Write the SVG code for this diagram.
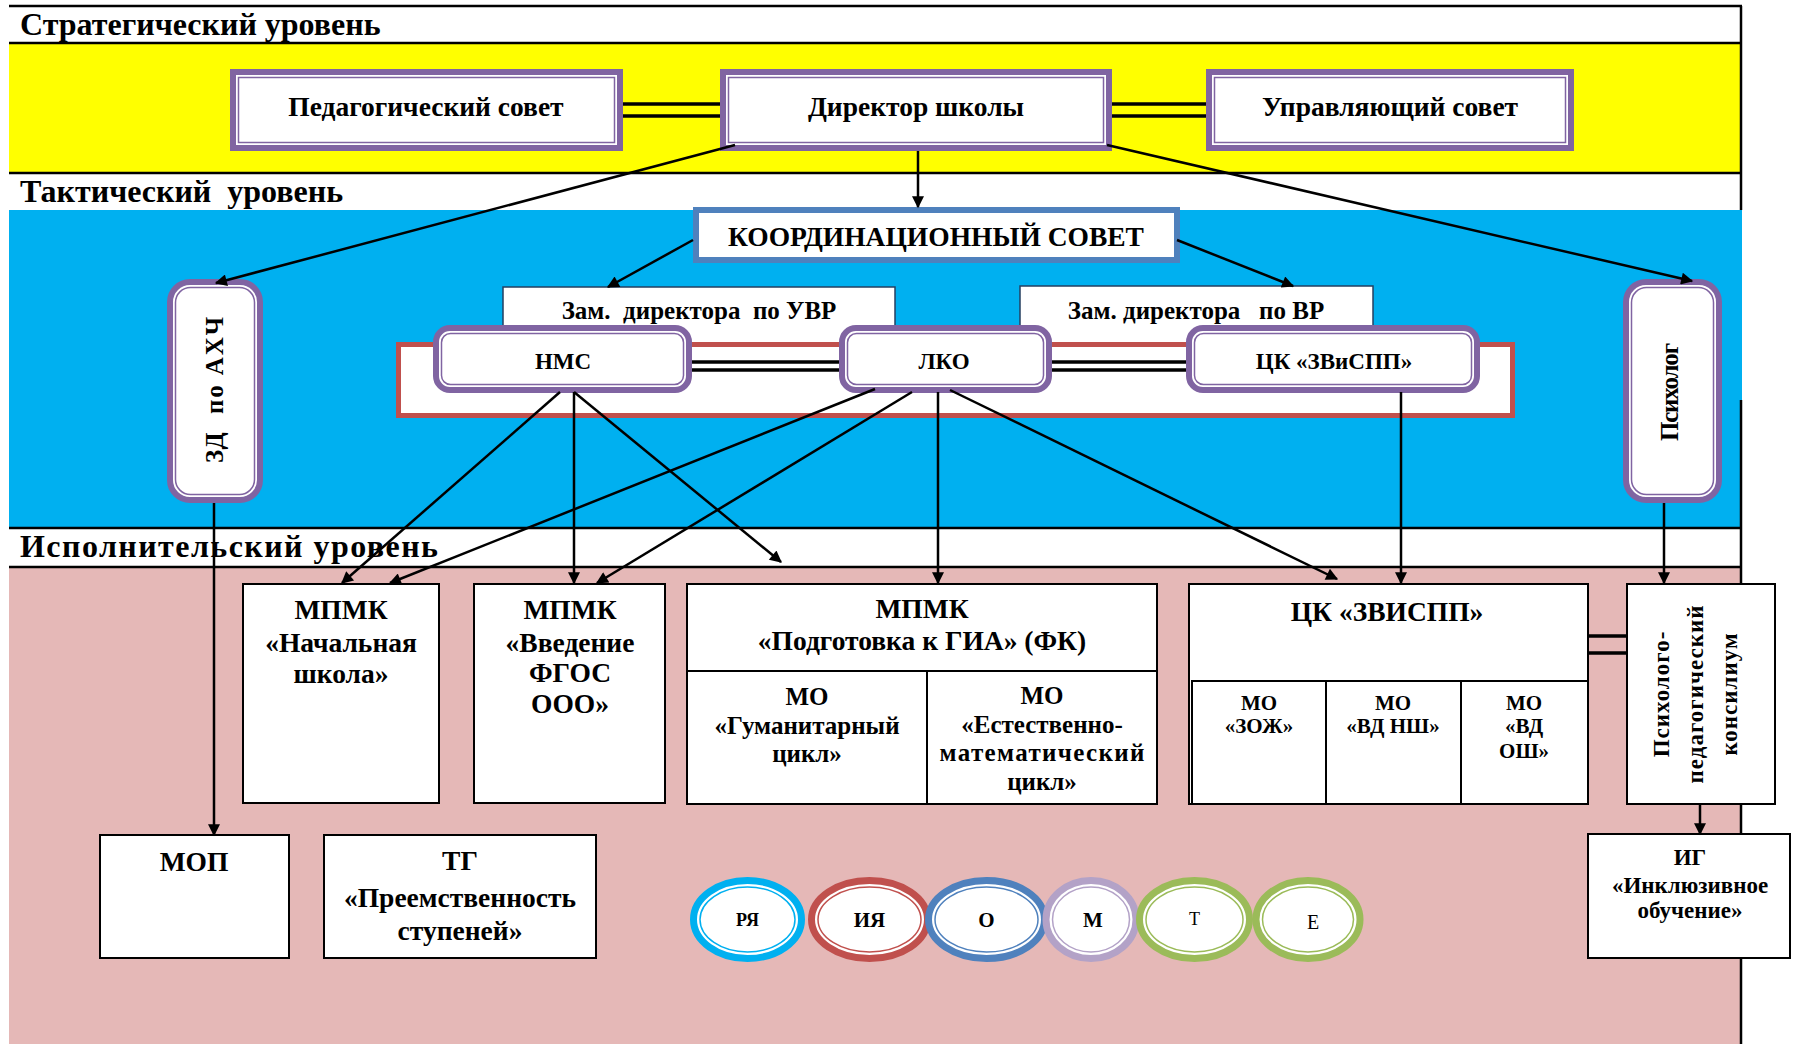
<svg xmlns="http://www.w3.org/2000/svg" width="1793" height="1044" viewBox="0 0 1793 1044">
<style>
text{font-family:"Liberation Serif","Times New Roman",serif;font-weight:bold;fill:#000;text-anchor:middle}
.hd{font-size:32px;text-anchor:start}
.po{fill:#fff;stroke:#8064A2;stroke-width:6}
.pi{fill:none;stroke:#8064A2;stroke-width:1.5}
.bx{fill:#fff;stroke:#000;stroke-width:2}
.ln{stroke:#000;stroke-width:2.5;fill:none}
.dl{stroke:#000;stroke-width:3.5}
.cn{stroke:#000;stroke-width:2.5;fill:none;marker-end:url(#ah)}
.t27{font-size:27.5px}
.t25{font-size:25px}
.t23{font-size:23px}
.t21{font-size:21px}
.t20{font-size:20px}
</style>
<defs>
<marker id="ah" viewBox="0 0 10 10" refX="9" refY="5" markerWidth="6" markerHeight="4.8" orient="auto" markerUnits="strokeWidth">
<path d="M0,0 L10,5 L0,10 z" fill="#000"/>
</marker>
</defs>

<g id="bands">
<rect x="0" y="0" width="1793" height="1044" fill="#fff"/>
<rect x="9" y="43" width="1732" height="130" fill="#FFFF00"/>
<rect x="9" y="210" width="1733" height="318" fill="#00B0F0"/>
<rect x="9" y="567" width="1732" height="477" fill="#E5B8B7"/>
<line class="ln" x1="9" y1="6" x2="1742" y2="6"/>
<line class="ln" x1="9" y1="43" x2="1742" y2="43"/>
<line class="ln" x1="9" y1="173" x2="1742" y2="173"/>
<line class="ln" x1="9" y1="528" x2="1742" y2="528"/>
<line class="ln" x1="9" y1="567" x2="1742" y2="567"/>
<line class="ln" x1="1741" y1="6" x2="1741" y2="210"/>
<line class="ln" x1="1741" y1="400" x2="1741" y2="1044"/>
<text class="hd" x="20" y="35">Стратегический уровень</text>
<text class="hd" x="20" y="202" xml:space="preserve">Тактический  уровень</text>
<text class="hd" x="20" y="557" textLength="418" lengthAdjust="spacing">Исполнительский уровень</text>
</g>

<g id="ped-sovet">
<rect class="po" x="233" y="72" width="387" height="76"/>
<rect class="pi" x="238.5" y="77.5" width="376" height="65"/>
<text class="t27" x="426" y="116">Педагогический совет</text>
</g>
<g id="direktor">
<rect class="po" x="723" y="72" width="386" height="76"/>
<rect class="pi" x="728.5" y="77.5" width="375" height="65"/>
<text class="t27" x="916" y="116">Директор школы</text>
</g>
<g id="upr-sovet">
<rect class="po" x="1209" y="72" width="362" height="76"/>
<rect class="pi" x="1214.5" y="77.5" width="351" height="65"/>
<text class="t27" x="1390" y="116">Управляющий совет</text>
</g>

<g id="koord-sovet">
<rect x="696" y="210" width="481" height="50" fill="#fff" stroke="#4F81BD" stroke-width="6"/>
<text class="t27" x="936" y="246">КООРДИНАЦИОННЫЙ СОВЕТ</text>
</g>

<g id="zam-uvr">
<rect x="503" y="287" width="392" height="58" fill="#fff" stroke="#243F60" stroke-width="1.5"/>
<text class="t25" x="699" y="319" xml:space="preserve">Зам.  директора  по УВР</text>
</g>
<g id="zam-vr">
<rect x="1020" y="286" width="353" height="59" fill="#fff" stroke="#243F60" stroke-width="1.5"/>
<text class="t25" x="1196" y="319" xml:space="preserve">Зам. директора   по ВР</text>
</g>

<g id="red-frame">
<rect x="398.5" y="344.5" width="1114" height="71" fill="#fff" stroke="#C0504D" stroke-width="5"/>
</g>

<g id="nms">
<rect class="po" x="436" y="328" width="253" height="62" rx="14"/>
<rect class="pi" x="441.5" y="333.5" width="242" height="51" rx="9"/>
<text class="t23" x="563" y="369">НМС</text>
</g>
<g id="lko">
<rect class="po" x="842" y="328" width="207" height="62" rx="14"/>
<rect class="pi" x="847.5" y="333.5" width="196" height="51" rx="9"/>
<text class="t23" x="944" y="369">ЛКО</text>
</g>
<g id="ck-zvispp-top">
<rect class="po" x="1189" y="328" width="288" height="62" rx="14"/>
<rect class="pi" x="1194.5" y="333.5" width="277" height="51" rx="9"/>
<text class="t23" x="1334" y="369">ЦК «ЗВиСПП»</text>
</g>

<g id="zd-ahch">
<rect class="po" x="170" y="282" width="90" height="218" rx="20"/>
<rect class="pi" x="175.5" y="287.5" width="79" height="207" rx="15"/>
<text class="t25" transform="translate(223,390) rotate(-90)" textLength="146" lengthAdjust="spacing" xml:space="preserve">ЗД  по АХЧ</text>
</g>
<g id="psiholog">
<rect class="po" x="1626" y="282" width="93" height="218" rx="20"/>
<rect class="pi" x="1631.5" y="287.5" width="82" height="207" rx="15"/>
<text class="t25" transform="translate(1678,392) rotate(-90)" textLength="98" lengthAdjust="spacing">Психолог</text>
</g>

<g id="mpmk-nach">
<rect class="bx" x="243" y="584" width="196" height="219"/>
<text class="t27" x="341" y="619">МПМК</text>
<text class="t27" x="341" y="652">«Начальная</text>
<text class="t27" x="341" y="683">школа»</text>
</g>
<g id="mpmk-fgos">
<rect class="bx" x="474" y="584" width="191" height="219"/>
<text class="t27" x="570" y="619">МПМК</text>
<text class="t27" x="570" y="652">«Введение</text>
<text class="t27" x="570" y="682">ФГОС</text>
<text class="t27" x="570" y="713">ООО»</text>
</g>
<g id="mpmk-gia">
<rect class="bx" x="687" y="584" width="470" height="220"/>
<line class="ln" x1="687" y1="671" x2="1157" y2="671" style="stroke-width:2"/>
<line class="ln" x1="927" y1="671" x2="927" y2="804" style="stroke-width:2"/>
<text class="t27" x="922" y="618">МПМК</text>
<text class="t27" x="922" y="650">«Подготовка к ГИА» (ФК)</text>
<text class="t25" x="807" y="705">МО</text>
<text class="t25" x="807" y="734">«Гуманитарный</text>
<text class="t25" x="807" y="762">цикл»</text>
<text class="t25" x="1042" y="704">МО</text>
<text class="t25" x="1042" y="733">«Естественно-</text>
<text class="t25" x="1042" y="761" textLength="205" lengthAdjust="spacing">математический</text>
<text class="t25" x="1042" y="790">цикл»</text>
</g>
<g id="ck-zvispp">
<rect class="bx" x="1189" y="584" width="399" height="220"/>
<rect class="bx" x="1192" y="681" width="396" height="123"/>
<line class="ln" x1="1326" y1="681" x2="1326" y2="804" style="stroke-width:2"/>
<line class="ln" x1="1461" y1="681" x2="1461" y2="804" style="stroke-width:2"/>
<text class="t27" x="1387" y="621">ЦК «ЗВИСПП»</text>
<text class="t21" x="1259" y="710">МО</text>
<text class="t21" x="1259" y="733">«ЗОЖ»</text>
<text class="t21" x="1393" y="710">МО</text>
<text class="t21" x="1393" y="733">«ВД НШ»</text>
<text class="t21" x="1524" y="710">МО</text>
<text class="t21" x="1524" y="733">«ВД</text>
<text class="t21" x="1524" y="758">ОШ»</text>
</g>
<g id="konsilium">
<rect class="bx" x="1627" y="584" width="148" height="220"/>
<text class="t23" transform="translate(1669,694) rotate(-90)" letter-spacing="1">Психолого-</text>
<text class="t23" transform="translate(1703,694) rotate(-90)" letter-spacing="1">педагогический</text>
<text class="t23" transform="translate(1737,694) rotate(-90)" letter-spacing="1">консилиум</text>
</g>
<g id="mop">
<rect class="bx" x="100" y="835" width="189" height="123"/>
<text class="t27" x="194" y="871">МОП</text>
</g>
<g id="tg">
<rect class="bx" x="324" y="835" width="272" height="123"/>
<text class="t27" x="460" y="870">ТГ</text>
<text class="t27" x="460" y="907">«Преемственность</text>
<text class="t27" x="460" y="940">ступеней»</text>
</g>
<g id="ig">
<rect class="bx" x="1588" y="834" width="202" height="124"/>
<text class="t23" x="1690" y="865">ИГ</text>
<text class="t23" x="1690" y="893">«Инклюзивное</text>
<text class="t23" x="1690" y="918">обучение»</text>
</g>

<g id="circles">
<g id="c-rya">
<ellipse cx="747.5" cy="919.5" rx="54" ry="39" fill="#fff" stroke="#00B0F0" stroke-width="7"/>
<ellipse cx="747.5" cy="919.5" rx="47.5" ry="32.5" fill="none" stroke="#00B0F0" stroke-width="1.5"/>
<text x="747.5" y="926" style="font-size:18px">РЯ</text>
</g>
<g id="c-iya">
<ellipse cx="869.5" cy="919.5" rx="58" ry="39" fill="#fff" stroke="#C0504D" stroke-width="7"/>
<ellipse cx="869.5" cy="919.5" rx="51.5" ry="32.5" fill="none" stroke="#C0504D" stroke-width="1.5"/>
<text x="869.5" y="927" class="t21">ИЯ</text>
</g>
<g id="c-o">
<ellipse cx="986.5" cy="919.5" rx="58" ry="39" fill="#fff" stroke="#4F81BD" stroke-width="7"/>
<ellipse cx="986.5" cy="919.5" rx="51.5" ry="32.5" fill="none" stroke="#4F81BD" stroke-width="1.5"/>
<text x="986.5" y="927" class="t21">О</text>
</g>
<g id="c-m">
<ellipse cx="1091" cy="919.5" rx="45" ry="39" fill="#fff" stroke="#B3A2C7" stroke-width="7"/>
<ellipse cx="1091" cy="919.5" rx="38.5" ry="32.5" fill="none" stroke="#B3A2C7" stroke-width="1.5"/>
<text x="1093" y="927" class="t21">М</text>
</g>
<g id="c-t">
<ellipse cx="1194.5" cy="919.5" rx="55" ry="39" fill="#fff" stroke="#9BBB59" stroke-width="7"/>
<ellipse cx="1194.5" cy="919.5" rx="48.5" ry="32.5" fill="none" stroke="#9BBB59" stroke-width="1.5"/>
<text x="1194.5" y="925" style="font-size:18px;font-weight:normal">Т</text>
</g>
<g id="c-e">
<ellipse cx="1308" cy="919.5" rx="52" ry="39" fill="#fff" stroke="#9BBB59" stroke-width="7"/>
<ellipse cx="1308" cy="919.5" rx="45.5" ry="32.5" fill="none" stroke="#9BBB59" stroke-width="1.5"/>
<text x="1313" y="929" style="font-size:20px;font-weight:normal">Е</text>
</g>
</g>

<g id="connectors">
<line class="dl" x1="623" y1="104" x2="720" y2="104"/>
<line class="dl" x1="623" y1="116" x2="720" y2="116"/>
<line class="dl" x1="1112" y1="104" x2="1206" y2="104"/>
<line class="dl" x1="1112" y1="116" x2="1206" y2="116"/>
<line class="dl" x1="692" y1="362" x2="839" y2="362"/>
<line class="dl" x1="692" y1="370" x2="839" y2="370"/>
<line class="dl" x1="1052" y1="362" x2="1186" y2="362"/>
<line class="dl" x1="1052" y1="370" x2="1186" y2="370"/>
<line class="dl" x1="1588" y1="636" x2="1627" y2="636"/>
<line class="dl" x1="1588" y1="653" x2="1627" y2="653"/>
<line class="cn" x1="918" y1="151" x2="918" y2="207"/>
<line class="cn" x1="735" y1="145" x2="216" y2="283"/>
<line class="cn" x1="1107" y1="145" x2="1692" y2="281"/>
<line class="cn" x1="693" y1="240" x2="608" y2="287"/>
<line class="cn" x1="1177" y1="240" x2="1293" y2="286"/>
<line class="cn" x1="214" y1="503" x2="214" y2="835"/>
<line class="cn" x1="560" y1="392" x2="342" y2="583"/>
<line class="cn" x1="574" y1="392" x2="574" y2="583"/>
<line class="cn" x1="574" y1="392" x2="781" y2="562"/>
<line class="cn" x1="875" y1="389" x2="390" y2="583"/>
<line class="cn" x1="912" y1="392" x2="597" y2="583"/>
<line class="cn" x1="938" y1="392" x2="938" y2="583"/>
<line class="cn" x1="950" y1="390" x2="1337" y2="579"/>
<line class="cn" x1="1401" y1="392" x2="1401" y2="583"/>
<line class="cn" x1="1664" y1="503" x2="1664" y2="583"/>
<line class="cn" x1="1700" y1="804" x2="1700" y2="834"/>
</g>
</svg>
